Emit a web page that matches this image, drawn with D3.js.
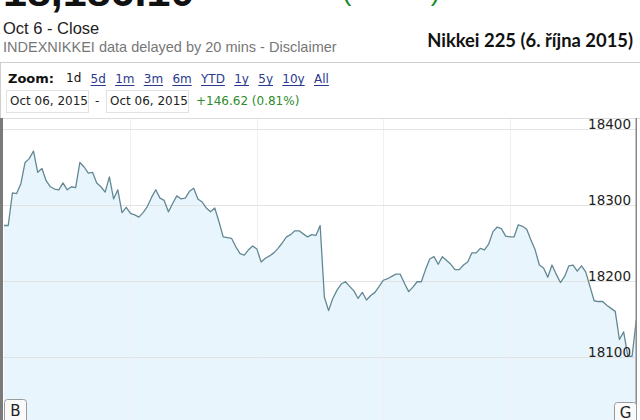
<!DOCTYPE html>
<html><head><meta charset="utf-8">
<script src="https://cdn.jsdelivr.net/npm/d3@7"></script>
<style>html,body{margin:0;padding:0;background:#fff;overflow:hidden}</style>
</head><body><svg id="c" width="640" height="420"></svg>
<script>
// Nikkei 225 intraday, 6 Oct 2015, 2-minute samples (09:00-11:30, 12:32-15:00)
const values = [
18273,18273,18316,18315,18328,18356,18361,18371,18343,18348,
18332,18324,18321,18320,18329,18320,18324,18323,18356,18350,
18342,18343,18329,18324,18317,18337,18308,18320,18290,18297,
18289,18287,18284,18290,18298,18310,18320,18309,18306,18291,
18302,18312,18308,18309,18318,18322,18308,18304,18296,18291,
18296,18278,18258,18257,18256,18245,18236,18234,18241,18246,
18242,18225,18230,18233,18237,18243,18250,18258,18261,18266,
18266,18262,18258,18261,18260,18273,
18179,18161,18177,18188,18196,18199,18193,18187,18177,18185,
18175,18181,18185,18193,18201,18203,18206,18209,18209,18197,
18186,18192,18199,18199,18215,18229,18232,18222,18232,18227,
18222,18215,18215,18221,18225,18237,18237,18243,18241,18249,
18265,18271,18269,18259,18258,18258,18274,18272,18268,18254,
18241,18221,18217,18205,18221,18209,18198,18206,18220,18221,
18213,18220,18212,18193,18174,18173,18173,18168,18164,18160,
18123,18133,18101,18101,18149
];
const yTicks = [18100, 18200, 18300, 18400];
const hourTicks = ["10:00", "11:00", "13:00", "14:00"];
const zoomLinks = ["1d","5d","1m","3m","6m","YTD","1y","5y","10y","All"];
const priceText = "18,186.10";
const changeText = "+146.62 (0.81%)";
const dateFrom = "Oct 06, 2015", dateTo = "Oct 06, 2015";
const title = "Nikkei 225 (6. října 2015)";

function timeToIndex(t){
  const [h,m] = t.split(":").map(Number);
  const mins = h*60+m;
  return mins <= 690 ? (mins-540)/2 : 75 + (mins-750)/2;
}

const svg = d3.select("#c");
const DV = "'DejaVu Sans', Verdana, sans-serif";
const AR = "'Liberation Sans', Arial, sans-serif";

// header
svg.append("text").attr("x",3).attr("y",6).attr("font-family",AR).attr("font-weight","bold")
  .attr("font-size",43).attr("fill","#111").text(priceText);
svg.append("text").attr("x",440).attr("y",0).attr("text-anchor","end").attr("font-family",AR)
  .attr("font-size",28).attr("fill","#1a8a2a").text(changeText);
svg.append("text").attr("x",3).attr("y",34).attr("font-family",AR).attr("font-size",16.5)
  .attr("fill","#222").text("Oct 6 - Close");
svg.append("text").attr("x",3).attr("y",52).attr("font-family",AR).attr("font-size",14.5)
  .attr("fill","#777").text("INDEXNIKKEI data delayed by 20 mins - Disclaimer");
const tt = svg.append("text").attr("x",633).attr("y",47).attr("text-anchor","end")
  .attr("font-family","Lato, 'Open Sans', sans-serif").attr("font-weight","bold")
  .attr("font-size",17).attr("fill","#111").text(title);
const tw = tt.node().getComputedTextLength();
tt.attr("font-size", 17*206/tw);

// zoom panel
svg.append("line").attr("x1",0).attr("x2",640).attr("y1",62.5).attr("y2",62.5).attr("stroke","#cfcfcf");
svg.append("line").attr("x1",0.5).attr("x2",0.5).attr("y1",62).attr("y2",118).attr("stroke","#cfcfcf");
svg.append("line").attr("x1",0).attr("x2",640).attr("y1",118.5).attr("y2",118.5).attr("stroke","#dcdcdc");
svg.append("text").attr("x",8).attr("y",83).attr("font-family",DV).attr("font-weight","bold")
  .attr("font-size",13).attr("fill","#111").text("Zoom:");
let lx = 66;
zoomLinks.forEach((z,i)=>{
  const t = svg.append("text").attr("x",lx).attr("y",i===0?82:83).attr("font-family",DV)
    .attr("font-size",12).attr("fill", i===0 ? "#111" : "#2b3a8f").text(z);
  const w = t.node().getComputedTextLength();
  if(i>0) svg.append("line").attr("x1",lx).attr("x2",lx+w).attr("y1",85.5).attr("y2",85.5)
    .attr("stroke","#2b3a8f").attr("stroke-width",1);
  lx += w + 9.3;
});
// date row
[[6,dateFrom],[106,dateTo]].forEach(([bx,s])=>{
  svg.append("rect").attr("x",bx+0.5).attr("y",90.5).attr("width",82).attr("height",22)
    .attr("fill","#fff").attr("stroke","#e2e2e2");
  svg.append("text").attr("x",bx+4).attr("y",105).attr("font-family",DV).attr("font-size",12)
    .attr("fill","#222").text(s);
});
svg.append("text").attr("x",95).attr("y",105).attr("font-family",DV).attr("font-size",12)
  .attr("fill","#222").text("-");
svg.append("text").attr("x",196).attr("y",105).attr("font-family",DV).attr("font-size",12)
  .attr("fill","#2e8b2e").text(changeText);

// chart
const x = d3.scaleLinear().domain([0, values.length-1]).range([4, 636.3]);
const y = d3.scaleLinear().domain([18100, 18400]).range([357, 129]);
const bottom = 420;

svg.append("defs").append("clipPath").attr("id","plot").append("rect")
  .attr("x",3).attr("y",119).attr("width",633).attr("height",301);

const g = svg.append("g").attr("clip-path","url(#plot)");
g.append("path").datum(values)
  .attr("d", d3.area().x((d,i)=>x(i)).y0(bottom).y1(d=>y(d)))
  .attr("fill","#e8f5fd");

// gridlines
g.selectAll(".vg").data(hourTicks).join("line")
  .attr("x1",d=>Math.round(x(timeToIndex(d)))+0.5).attr("x2",d=>Math.round(x(timeToIndex(d)))+0.5)
  .attr("y1",119).attr("y2",bottom).attr("stroke","#f0f0f0");
g.selectAll(".hg").data(yTicks).join("line")
  .attr("x1",3).attr("x2",636).attr("y1",d=>Math.round(y(d))+0.5).attr("y2",d=>Math.round(y(d))+0.5)
  .attr("stroke","#e3e3e3");

g.append("path").datum(values)
  .attr("d", d3.line().x((d,i)=>x(i)).y(d=>y(d)))
  .attr("fill","none").attr("stroke","#628893").attr("stroke-width",1.3).attr("stroke-linejoin","round");

// y labels
const yAxis = d3.axisRight(y).tickValues(yTicks).tickSize(0).tickPadding(0).tickFormat(d3.format("d"));
const ya = svg.append("g").attr("transform","translate(631,0)").call(yAxis);
ya.select(".domain").remove();
ya.selectAll("text").attr("text-anchor","end").attr("font-family",DV).attr("font-size",13.5)
  .attr("fill","#222").attr("dy",null).attr("y",-1).attr("x",0)
  .style("dominant-baseline","auto");

// borders
svg.append("rect").attr("x",0).attr("y",118).attr("width",3).attr("height",302).attr("fill","#7a7a7a");
svg.append("rect").attr("x",635.5).attr("y",118).attr("width",1.5).attr("height",302).attr("fill","#8a8a8a");

// buttons
[[4,399,22,"B",416],[614,402,22,"G",418]].forEach(([bx,by,w,s,bl])=>{
  svg.append("rect").attr("x",bx+0.5).attr("y",by+0.5).attr("width",w).attr("height",24).attr("rx",3)
    .attr("fill","#fafafa").attr("stroke","#9a9a9a");
  svg.append("text").attr("x",bx+w/2+0.5).attr("y",bl).attr("text-anchor","middle")
    .attr("font-family",DV).attr("font-size",15).attr("fill","#222").text(s);
});
</script></body></html>
